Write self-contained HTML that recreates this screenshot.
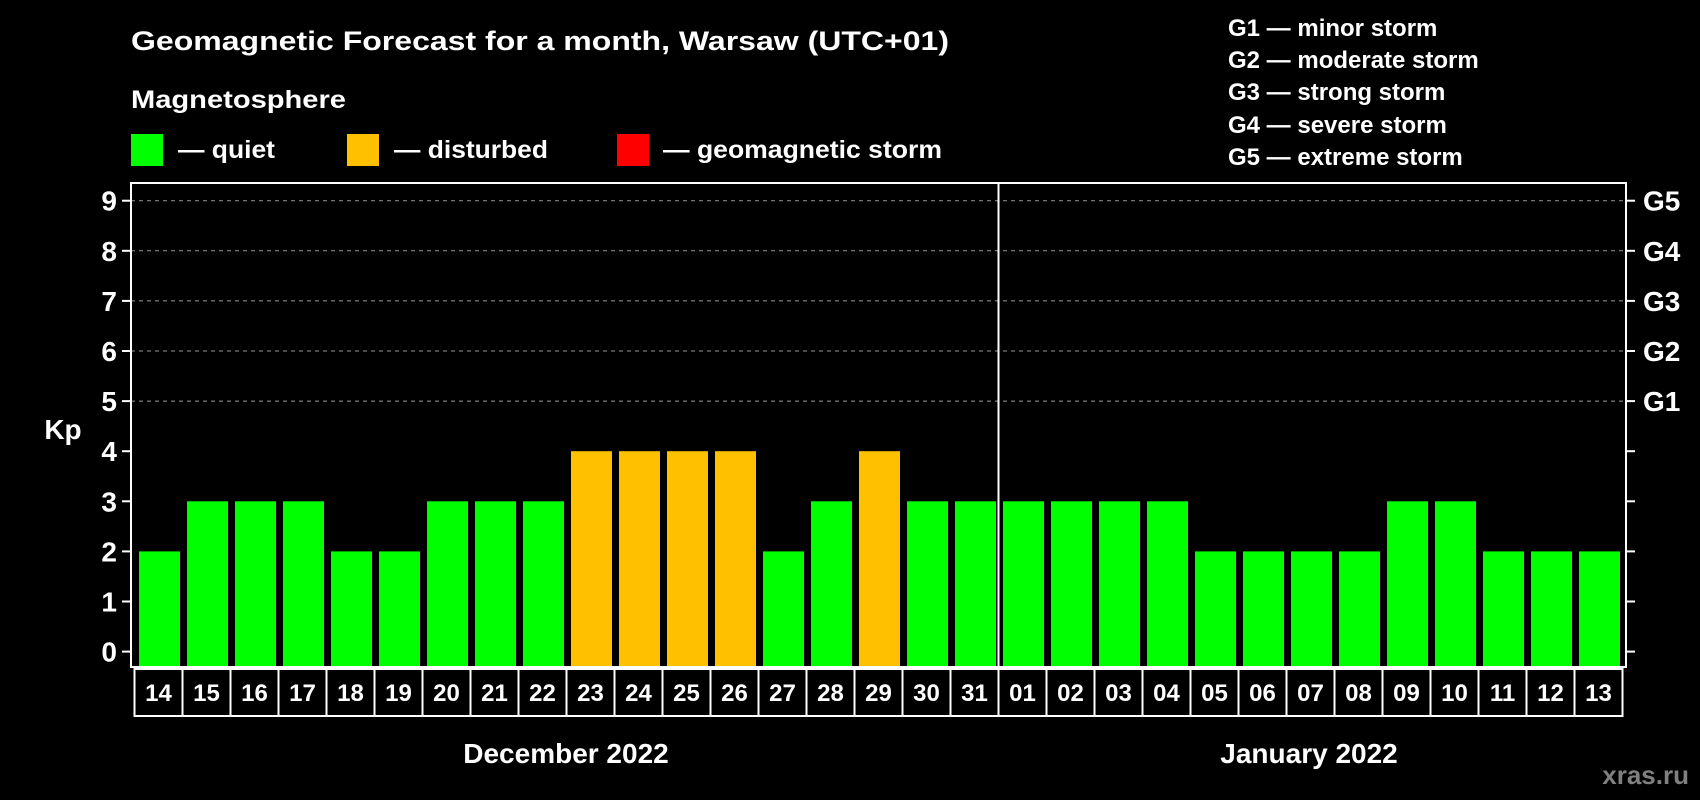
<!DOCTYPE html>
<html><head><meta charset="utf-8"><style>
html,body{margin:0;padding:0;background:#000;}
svg{display:block;font-family:"Liberation Sans",sans-serif;font-weight:bold;}
</style></head><body>
<svg id="chart" width="1700" height="800" viewBox="0 0 1700 800">
<rect x="0" y="0" width="1700" height="800" fill="#000"/>
<text x="131" y="50" font-size="27" fill="#fff" textLength="818" lengthAdjust="spacingAndGlyphs">Geomagnetic Forecast for a month, Warsaw (UTC+01)</text>
<text x="131" y="108" font-size="25" fill="#fff" textLength="215" lengthAdjust="spacingAndGlyphs">Magnetosphere</text>
<g>
<rect x="131" y="134" width="32" height="32" fill="#00ff00"/>
<text x="178" y="158" font-size="25" fill="#fff" textLength="97" lengthAdjust="spacingAndGlyphs">— quiet</text>
</g>
<g>
<rect x="347" y="134" width="32" height="32" fill="#ffc000"/>
<text x="394" y="158" font-size="25" fill="#fff" textLength="154" lengthAdjust="spacingAndGlyphs">— disturbed</text>
</g>
<g>
<rect x="617" y="134" width="32" height="32" fill="#ff0000"/>
<text x="663" y="158" font-size="25" fill="#fff" textLength="279" lengthAdjust="spacingAndGlyphs">— geomagnetic storm</text>
</g>
<g font-size="24" fill="#fff">
<text x="1228" y="36">G1 — minor storm</text>
<text x="1228" y="68">G2 — moderate storm</text>
<text x="1228" y="100">G3 — strong storm</text>
<text x="1228" y="133">G4 — severe storm</text>
<text x="1228" y="165">G5 — extreme storm</text>
</g>
<text x="63" y="439" font-size="28" fill="#fff" text-anchor="middle">Kp</text>
<g id="grid"></g>
<g id="bars"></g>
<g id="axes"></g>
<g id="xlabels"></g>
<text x="566" y="763" font-size="28" fill="#fff" text-anchor="middle">December 2022</text>
<text x="1309" y="763" font-size="28" fill="#fff" text-anchor="middle">January 2022</text>
<text x="1689" y="784" font-size="26" fill="#808080" text-anchor="end">xras.ru</text>
</svg>
<script>
const days = ["14","15","16","17","18","19","20","21","22","23","24","25","26","27","28","29","30","31","01","02","03","04","05","06","07","08","09","10","11","12","13"];
const kpValues = [2,3,3,3,2,2,3,3,3,4,4,4,4,2,3,4,3,3,3,3,3,3,2,2,2,2,3,3,2,2,2];
const yTicks = [0,1,2,3,4,5,6,7,8,9];
const gLabels = ["G1","G2","G3","G4","G5"];
const gLevels = [5,6,7,8,9];
const monthSplitIndex = 18;

const NS = "http://www.w3.org/2000/svg";
const frame = {l:131, r:1626, t:183, b:667};
const y0 = 651.6, yUnit = 50.1;
const yScale = v => y0 - v * yUnit;
const barStep = 48, barW = 41, barX0 = 139;
const xScale = i => barX0 + i * barStep;
const cellX0 = 134.5;
function mk(tag, attrs, parent){const e=document.createElementNS(NS,tag);for(const k in attrs)e.setAttribute(k,attrs[k]);parent.appendChild(e);return e;}
function color(v){return v>=5?"#ff0000":(v>=4?"#ffc000":"#00ff00");}

const grid = document.getElementById("grid");
gLevels.forEach((lv,i)=>{
  const ln = mk("line",{x1:frame.l,x2:frame.r,y1:yScale(lv),y2:yScale(lv),stroke:"#999","stroke-width":1,"stroke-dasharray":"4,4"},grid);
  
  
});

const bars = document.getElementById("bars");
kpValues.forEach((v,i)=>{
  const r = mk("rect",{x:xScale(i),y:yScale(v),width:barW,height:frame.b-yScale(v),fill:color(v)},bars);
  
  
});

const axes = document.getElementById("axes");
const fr = mk("rect",{x:frame.l,y:frame.t,width:frame.r-frame.l,height:frame.b-frame.t,fill:"none",stroke:"#fff","stroke-width":2},axes);


const divX = cellX0 + monthSplitIndex*barStep;
const dv = mk("line",{x1:divX,x2:divX,y1:frame.t,y2:frame.b,stroke:"#fff","stroke-width":2},axes);


yTicks.forEach(t=>{
  const y=yScale(t);
  const tl = mk("line",{x1:frame.l-9,x2:frame.l,y1:y,y2:y,stroke:"#fff","stroke-width":2},axes);
  
  
  const tr = mk("line",{x1:frame.r,x2:frame.r+9,y1:y,y2:y,stroke:"#fff","stroke-width":2},axes);
  
  
  const tx = mk("text",{x:frame.l-14,y:y+10,"font-size":28,fill:"#fff","text-anchor":"end"},axes);
  tx.textContent=t;
  
  
});
gLabels.forEach((g,i)=>{
  const tx = mk("text",{x:frame.r+17,y:yScale(gLevels[i])+10,"font-size":28,fill:"#fff"},axes);
  tx.textContent=g;
  
  
});

const xl = document.getElementById("xlabels");
days.forEach((d,i)=>{
  const cx = cellX0 + i*barStep;
  const c = mk("rect",{x:cx,y:669,width:barStep,height:47,fill:"#000",stroke:"#fff","stroke-width":2},xl);
  
  
  const t = mk("text",{x:cx+barStep/2,y:701,"font-size":24,fill:"#fff","text-anchor":"middle"},xl);
  t.textContent=d;
  
  
});
</script>
</body></html>
